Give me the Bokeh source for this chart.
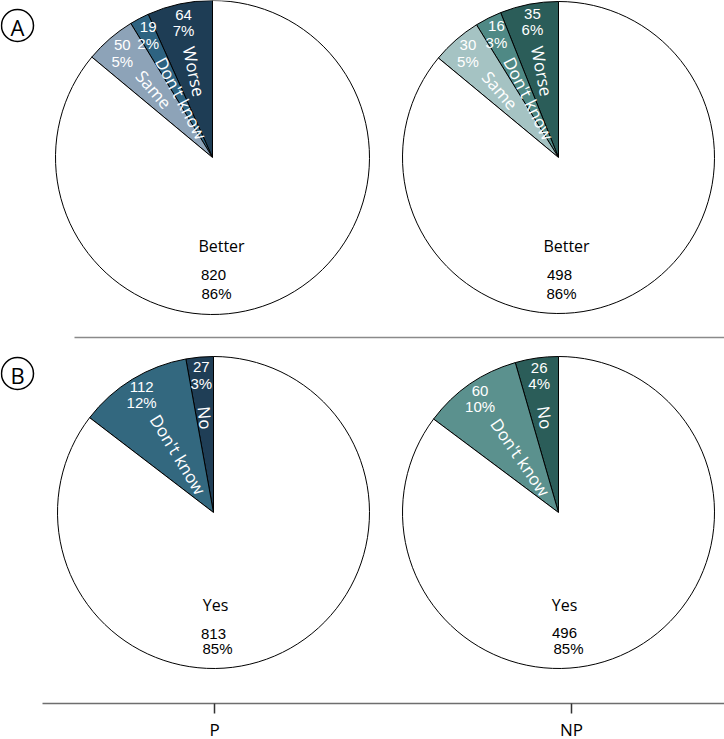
import math
from bokeh.plotting import figure
from bokeh.models import Range1d, FixedTicker, ColumnDataSource
from bokeh.core.properties import value
from bokeh.embed import file_html
from bokeh.resources import INLINE

# ---------------- data ----------------
groups = ["P", "NP"]
panel_letters = ["A", "B"]

a_categories = ["Worse", "Don't know", "Same", "Better"]
a_p_values = [64, 19, 50, 820]
a_np_values = [35, 16, 30, 498]

b_categories = ["No", "Don't know", "Yes"]
b_p_values = [27, 112, 813]
b_np_values = [26, 60, 496]

# ---------------- styles ----------------
a_p_colors = ["#1e3d55", "#2e6381", "#8da3b8", "#ffffff"]
a_np_colors = ["#2b5d59", "#4f8985", "#a5c3c3", "#ffffff"]
b_p_colors = ["#1f3e56", "#33687f", "#ffffff"]
b_np_colors = ["#2b5d59", "#5b918e", "#ffffff"]

WORD_FONT = value("Open Sans")
NUM_FONT = value("Liberation Sans")

H = 739  # page height, used to flip y (y grows upward in Bokeh)


def Y(yr):
    return H - yr


group_x = [214, 571]

pies = [
    dict(cats=a_categories, vals=a_p_values, cols=a_p_colors, cx=212, cy=157, r=157,
         cat_r=[88, 67, 90], big=[(9, 88), (1, 117), (4, 136)]),
    dict(cats=a_categories, vals=a_np_values, cols=a_np_colors, cx=558, cy=157, r=156,
         cat_r=[88, 66, 89], big=[(8, 88), (1, 117), (3, 136)]),
    dict(cats=b_categories, vals=b_p_values, cols=b_p_colors, cx=213, cy=512, r=156,
         cat_r=[95, 68], big=[(2, 92), (0, 121), (4, 136)]),
    dict(cats=b_categories, vals=b_np_values, cols=b_np_colors, cx=558, cy=512, r=156,
         cat_r=[96, 67], big=[(6, 92), (6, 120), (10, 136)]),
]

p = figure(x_range=Range1d(0, 724), y_range=Range1d(Y(703), Y(0)),
           frame_width=724, frame_height=703, min_border=0,
           toolbar_location=None, output_backend="svg", y_axis_location=None)
p.outline_line_color = None
p.grid.visible = False
p.background_fill_color = "white"

for pie in pies:
    vals = pie["vals"]
    total = sum(vals)
    starts, ends = [], []
    a = math.pi / 2
    for v in vals:
        starts.append(a)
        a += 2 * math.pi * v / total
        ends.append(a)
    src = ColumnDataSource(dict(start=starts, end=ends, color=pie["cols"]))
    cx, cy = pie["cx"], Y(pie["cy"])
    p.wedge(x=cx, y=cy, radius=pie["r"], start_angle="start", end_angle="end",
            fill_color="color", line_color="black", line_width=1, source=src)

    pcts = [f"{round(100 * v / total)}%" for v in vals]
    n_small = len(vals) - 1
    nx, ny1, ny2, nt1, nt2 = [], [], [], [], []
    lx, ly, lt, la = [], [], [], []
    for i in range(n_small):
        mid = (starts[i] + ends[i]) / 2
        rn = 138
        x = cx + rn * math.cos(mid)
        y = cy + rn * math.sin(mid)
        nx.append(x)
        ny1.append(y + 8)
        ny2.append(y - 8)
        nt1.append(str(vals[i]))
        nt2.append(pcts[i])
        rc = pie["cat_r"][i]
        lx.append(cx + rc * math.cos(mid))
        ly.append(cy + rc * math.sin(mid))
        lt.append(pie["cats"][i])
        la.append(mid - math.pi)
    p.text(x=nx, y=ny1, text=nt1, text_align="center", text_baseline="middle",
           text_font=NUM_FONT, text_font_size="15px", text_color="white")
    p.text(x=nx, y=ny2, text=nt2, text_align="center", text_baseline="middle",
           text_font=NUM_FONT, text_font_size="15px", text_color="white")
    p.text(x=lx, y=ly, text=lt, angle=la, text_align="center", text_baseline="middle",
           text_font=WORD_FONT, text_font_size="17px", text_color="white")

    (dx0, dy0), (dx1, dy1), (dx2, dy2) = pie["big"]
    p.text(x=[cx + dx0], y=[cy - dy0], text=[pie["cats"][-1]], text_align="center",
           text_baseline="middle", text_font=WORD_FONT, text_font_size="16px",
           text_color="black")
    p.text(x=[cx + dx1, cx + dx2], y=[cy - dy1, cy - dy2],
           text=[str(vals[-1]), pcts[-1]], text_align="center", text_baseline="middle",
           text_font=NUM_FONT, text_font_size="15px", text_color="black")

# separator between panels
p.segment(x0=[74], y0=[Y(337)], x1=[724], y1=[Y(337)], line_color="#8a8a8a", line_width=1.5)

# circled panel letters
letter_y = [Y(25), Y(373)]
p.scatter(x=[17, 17], y=letter_y, marker="circle", size=32, fill_color=None,
          line_color="black", line_width=1.5)
p.text(x=[17, 17], y=[yy - 1 for yy in letter_y], text=panel_letters, text_align="center",
       text_baseline="middle", text_font=WORD_FONT, text_font_size="22px", text_color="black")

# bottom axis with group labels
ax = p.xaxis[0]
ax.ticker = FixedTicker(ticks=group_x)
ax.major_label_overrides = {x: g for x, g in zip(group_x, groups)}
ax.bounds = (42, 724)
ax.axis_line_color = "#6e6e6e"
ax.axis_line_width = 1.5
ax.major_tick_line_color = "#333333"
ax.major_tick_line_width = 1.5
ax.major_tick_out = 10
ax.major_tick_in = 0
ax.minor_tick_line_color = None
ax.major_label_text_font = "Open Sans"
ax.major_label_text_font_size = "17px"
ax.major_label_text_color = "black"
ax.major_label_standoff = 4

open("out.html", "w").write(file_html(p, INLINE))
